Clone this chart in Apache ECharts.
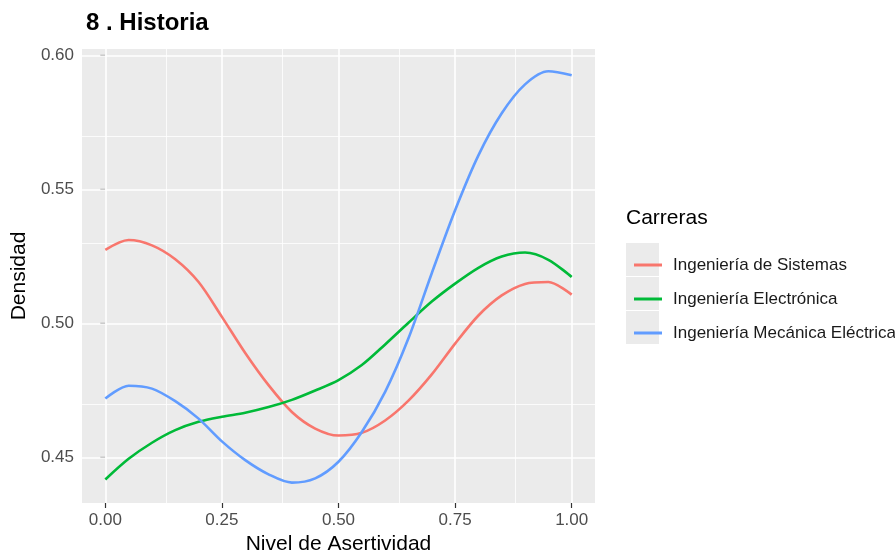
<!DOCTYPE html>
<html>
<head>
<meta charset="utf-8">
<script src="https://cdn.jsdelivr.net/npm/echarts@6/dist/echarts.min.js"></script>
<style>
  html, body { margin: 0; padding: 0; background: #fff; }
  #chart { width: 895px; height: 556px; }
</style>
</head>
<body>
<div id="chart"></div>
<script>
// Nivel de Asertividad (eje x)
var nivel = [0, 0.05, 0.1, 0.15, 0.2, 0.25, 0.3, 0.35, 0.4, 0.45, 0.5,
             0.55, 0.6, 0.65, 0.7, 0.75, 0.8, 0.85, 0.9, 0.95, 1.0];

// densidades
var sistemas = [0.5275, 0.5312, 0.5292, 0.5240, 0.5155, 0.5025, 0.489, 0.477, 0.467, 0.4608, 0.4582,
                0.4592, 0.4638, 0.4712, 0.481, 0.4925, 0.503, 0.5105, 0.5148, 0.5155, 0.5108];
var electronica = [0.4418, 0.4495, 0.4555, 0.4602, 0.4633, 0.4652, 0.4667, 0.4688, 0.4715, 0.475, 0.4789,
                   0.4845, 0.4922, 0.5003, 0.5082, 0.5149, 0.5208, 0.5250, 0.5265, 0.5238, 0.5174];
var mecanica = [0.472, 0.4768, 0.4757, 0.4710, 0.4645, 0.4560, 0.449, 0.4437, 0.4406, 0.4422, 0.4484,
                0.4595, 0.4745, 0.4945, 0.5188, 0.5423, 0.5628, 0.5785, 0.5893, 0.5942, 0.5927];

var carreras = ['Ingeniería de Sistemas', 'Ingeniería Electrónica', 'Ingeniería Mecánica Eléctrica'];
var colores = ['#F8766D', '#00BA38', '#619CFF'];

var xTicks = [0, 0.25, 0.5, 0.75, 1];
var xMinor = [0.125, 0.375, 0.625, 0.875];
var yTicks = [0.45, 0.5, 0.55, 0.6];
var yMinor = [0.475, 0.525, 0.575];

function pares(ys) {
  return nivel.map(function (x, i) { return [x, ys[i]]; });
}

var gridLines = [];
xMinor.forEach(function (v) { gridLines.push({ xAxis: v, lineStyle: { width: 0.8 } }); });
yMinor.forEach(function (v) { gridLines.push({ yAxis: v, lineStyle: { width: 0.8 } }); });
xTicks.forEach(function (v) { gridLines.push({ xAxis: v, lineStyle: { width: 1.6 } }); });
yTicks.forEach(function (v) { gridLines.push({ yAxis: v, lineStyle: { width: 1.6 } }); });

var chartDom = document.getElementById('chart');
var myChart = echarts.init(chartDom);
var font = 'Liberation Sans, Arial, sans-serif';

var option = {
  animation: false,
  textStyle: { fontFamily: font },
  title: {
    text: '8 . Historia',
    left: 81,
    top: 6,
    textStyle: { fontSize: 24, fontWeight: 'bold', color: '#000', fontFamily: font }
  },
  grid: {
    left: 82,
    right: 300,
    top: 49,
    bottom: 53,
    outerBoundsMode: 'none',
    containLabel: false,
    show: true,
    backgroundColor: '#EBEBEB',
    borderWidth: 0
  },
  graphic: [
    { type: 'text', left: 626, top: 208, style: { text: 'Carreras', fontSize: 21, fill: '#000', fontFamily: font } },
    { type: 'rect', shape: { x: 626, y: 243, width: 33, height: 33 }, style: { fill: '#EBEBEB' }, z: -1 },
    { type: 'rect', shape: { x: 626, y: 277, width: 33, height: 33 }, style: { fill: '#EBEBEB' }, z: -1 },
    { type: 'rect', shape: { x: 626, y: 311, width: 33, height: 33 }, style: { fill: '#EBEBEB' }, z: -1 }
  ],
  legend: {
    orient: 'vertical',
    left: 629,
    top: 250,
    icon: 'rect',
    itemWidth: 28,
    itemHeight: 3,
    itemGap: 14,
    data: carreras,
    textStyle: { fontSize: 17, color: '#1a1a1a', lineHeight: 20, padding: [0, 0, 0, 6], fontFamily: font }
  },
  xAxis: {
    type: 'value',
    min: -0.05,
    max: 1.05,
    name: 'Nivel de Asertividad',
    nameLocation: 'middle',
    nameGap: 31,
    nameTextStyle: { fontSize: 21, color: '#000', fontFamily: font },
    axisLine: { show: false },
    axisTick: { show: true, length: 5, customValues: xTicks, lineStyle: { color: '#333', width: 1.2 } },
    axisLabel: {
      customValues: xTicks,
      fontSize: 17,
      color: '#4D4D4D',
      margin: 9,
      formatter: function (v) { return v.toFixed(2); }
    },
    splitLine: { show: false }
  },
  yAxis: {
    type: 'value',
    min: 0.433,
    max: 0.6025,
    name: 'Densidad',
    nameLocation: 'middle',
    nameGap: 52,
    nameRotate: 90,
    nameTextStyle: { fontSize: 21, color: '#000', fontFamily: font },
    axisLine: { show: false },
    axisTick: { show: true, length: 5, customValues: yTicks, lineStyle: { color: '#333', width: 1.2 } },
    axisLabel: {
      customValues: yTicks,
      fontSize: 17,
      color: '#4D4D4D',
      margin: 8,
      formatter: function (v) { return v.toFixed(2); }
    },
    splitLine: { show: false }
  },
  series: [
    {
      name: 'grid',
      type: 'line',
      data: [],
      z: 1,
      silent: true,
      markLine: {
        silent: true,
        z: 1,
        symbol: 'none',
        label: { show: false },
        lineStyle: { color: '#FFFFFF', type: 'solid' },
        data: gridLines
      }
    },
    {
      name: carreras[0], type: 'line', smooth: 0.3, showSymbol: false, z: 6,
      itemStyle: { color: colores[0] }, lineStyle: { width: 2.6, color: colores[0] },
      data: pares(sistemas)
    },
    {
      name: carreras[1], type: 'line', smooth: 0.3, showSymbol: false, z: 6,
      itemStyle: { color: colores[1] }, lineStyle: { width: 2.6, color: colores[1] },
      data: pares(electronica)
    },
    {
      name: carreras[2], type: 'line', smooth: 0.3, showSymbol: false, z: 6,
      itemStyle: { color: colores[2] }, lineStyle: { width: 2.6, color: colores[2] },
      data: pares(mecanica)
    }
  ]
};

myChart.setOption(option);
</script>
</body>
</html>
